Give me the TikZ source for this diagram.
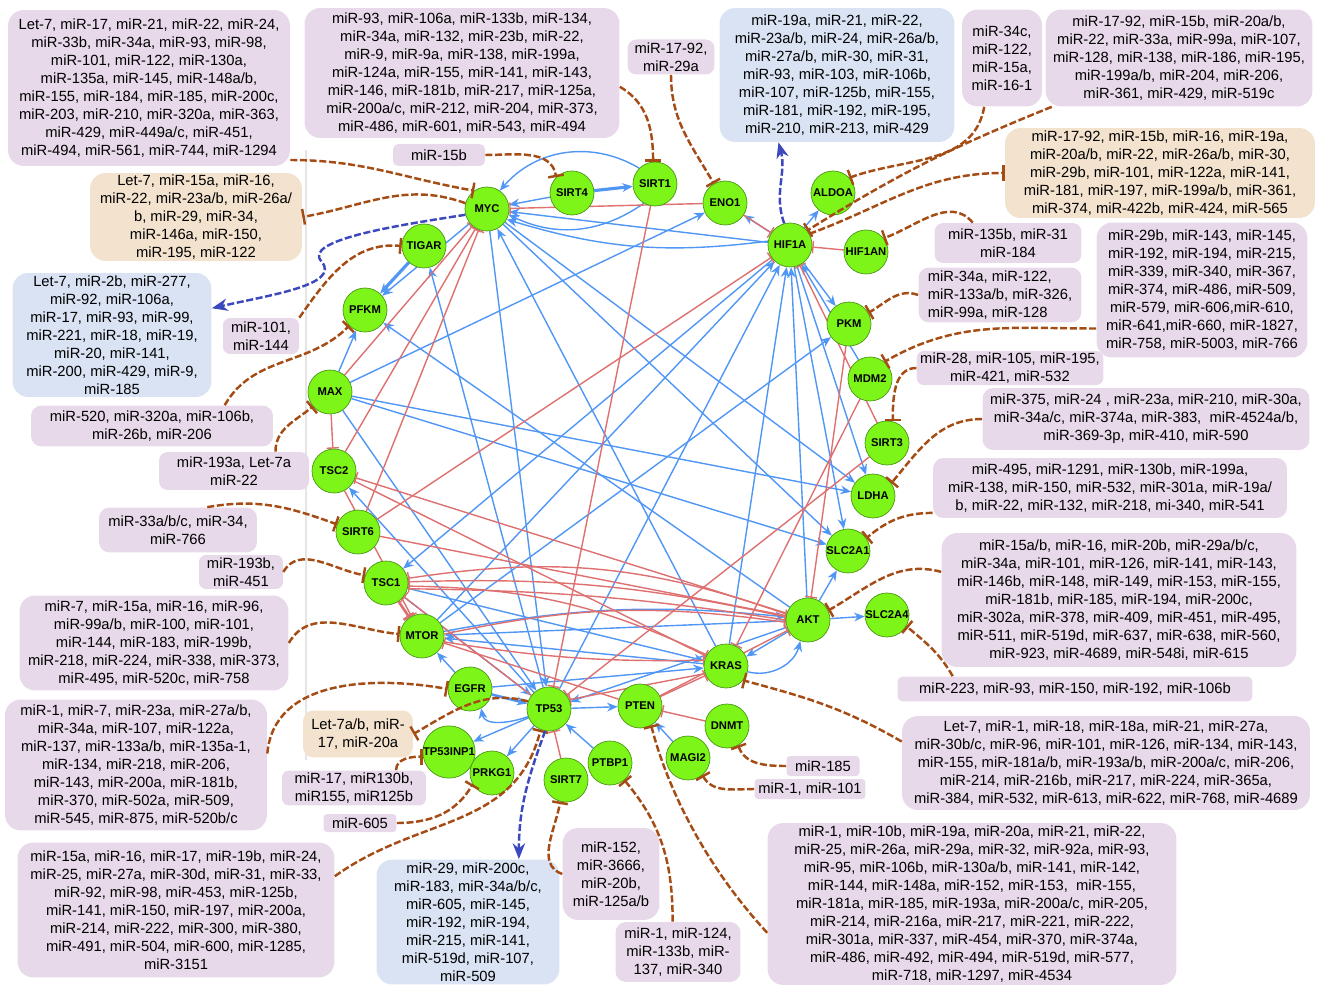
\documentclass[tikz,border=0pt]{standalone}
\usepackage{fontspec}
\setmainfont{Liberation Sans}
\usetikzlibrary{positioning, arrows.meta, calc}
\pgfdeclarelayer{bg}
\pgfsetlayers{bg,main}

\definecolor{genefill}{RGB}{125,245,25}
\definecolor{geneedge}{RGB}{75,150,20}
\definecolor{mirpurple}{RGB}{231,217,233}
\definecolor{mirtan}{RGB}{243,226,206}
\definecolor{mirblue}{RGB}{217,227,243}
\definecolor{mirbrown}{RGB}{165,75,20}
\definecolor{actblue}{RGB}{80,150,245}
\definecolor{inhred}{RGB}{222,112,112}
\definecolor{upblue}{RGB}{60,72,190}

\tikzset{
    gene/.style={circle, draw=geneedge, fill=genefill, minimum size=0.88cm, inner sep=0pt, font=\bfseries\fontsize{6.4}{7}\selectfont},
    mir_box/.style={rounded corners=9pt, fill=mirpurple, align=center, inner xsep=2pt, inner ysep=1pt, font=\fontsize{8.4}{10.2}\selectfont},
    tan_box/.style={mir_box, fill=mirtan},
    blue_box/.style={mir_box, fill=mirblue},
    act_edge/.style={draw=actblue, line width=0.8pt, -{Stealth[length=6pt, width=5pt]}},
    inh_edge/.style={draw=inhred, line width=0.8pt, -{Bar[width=7pt]}},
    mir_link/.style={draw=mirbrown, line width=1.4pt, dash pattern=on 4pt off 1.5pt, -{Bar[width=9pt]}},
    up_link/.style={draw=upblue, line width=1.4pt, dash pattern=on 4pt off 1.5pt, -{Stealth[length=9pt, width=7pt]}}
}

\begin{document}
\begin{tikzpicture}[x=0.02cm, y=-0.02cm]
      \useasboundingbox (0,0) rectangle (1319,986);
      \draw[black!10, line width=0.6pt] (306,150) -- (306,760);

      % --- Genes ---
      \node (myc) [gene] at (487,209) {MYC};
      \node (sirt4) [gene] at (572,193) {SIRT4};
      \node (sirt1) [gene] at (655,184) {SIRT1};
      \node (eno1) [gene] at (725,203) {ENO1};
      \node (aldoa) [gene] at (833,193) {ALDOA};
      \node (hif1a) [gene] at (790,245) {HIF1A};
      \node (hif1an) [gene] at (866,252) {HIF1AN};
      \node (tigar) [gene] at (424,246) {TIGAR};
      \node (pfkm) [gene] at (365,310) {PFKM};
      \node (pkm) [gene] at (849,324) {PKM};
      \node (max) [gene] at (330,392) {MAX};
      \node (mdm2) [gene] at (870,379) {MDM2};
      \node (sirt3) [gene] at (887,443) {SIRT3};
      \node (tsc2) [gene] at (334,471) {TSC2};
      \node (ldha) [gene] at (873,496) {LDHA};
      \node (sirt6) [gene] at (358,532) {SIRT6};
      \node (slc2a1) [gene] at (848,551) {SLC2A1};
      \node (tsc1) [gene] at (386,583) {TSC1};
      \node (akt) [gene] at (808,620) {AKT};
      \node (slc2a4) [gene] at (887,615) {SLC2A4};
      \node (mtor) [gene] at (422,636) {MTOR};
      \node (kras) [gene] at (726,666) {KRAS};
      \node (egfr) [gene] at (470,689) {EGFR};
      \node (tp53) [gene] at (549,709) {TP53};
      \node (pten) [gene] at (640,706) {PTEN};
      \node (dnmt) [gene] at (727,726) {DNMT};
      \node (tp53inp1) [gene] at (449,752) {TP53INP1};
      \node (prkg1) [gene] at (492,773) {PRKG1};
      \node (sirt7) [gene] at (566,780) {SIRT7};
      \node (ptbp1) [gene] at (610,763) {PTBP1};
      \node (magi2) [gene] at (688,758) {MAGI2};

      % --- miRNA boxes ---
      \node (boxA) [mir_box, minimum width=5.64cm, minimum height=3.12cm] at (149,88)
          {Let-7, miR-17, miR-21, miR-22, miR-24,\\ miR-33b, miR-34a, miR-93, miR-98,\\ miR-101, miR-122, miR-130a,\\ miR-135a, miR-145, miR-148a/b,\\ miR-155, miR-184, miR-185, miR-200c,\\ miR-203, miR-210, miR-320a, miR-363,\\ miR-429, miR-449a/c, miR-451,\\ miR-494, miR-561, miR-744, miR-1294};
      \node (boxB) [mir_box, minimum width=6.3cm, minimum height=2.6cm] at (462,73)
          {miR-93, miR-106a, miR-133b, miR-134,\\ miR-34a, miR-132, miR-23b, miR-22,\\ miR-9, miR-9a, miR-138, miR-199a,\\ miR-124a, miR-155, miR-141, miR-143,\\ miR-146, miR-181b, miR-217, miR-125a,\\ miR-200a/c, miR-212, miR-204, miR-373,\\ miR-486, miR-601, miR-543, miR-494};
      \node (box1792) [mir_box, rounded corners=5pt, minimum width=1.74cm, minimum height=0.7cm] at (671,57)
          {miR-17-92,\\ miR-29a};
      \node (boxC) [blue_box, minimum width=4.7cm, minimum height=2.68cm] at (837,75)
          {miR-19a, miR-21, miR-22,\\ miR-23a/b, miR-24, miR-26a/b,\\ miR-27a/b, miR-30, miR-31,\\ miR-93, miR-103, miR-106b,\\ miR-107, miR-125b, miR-155,\\ miR-181, miR-192, miR-195,\\ miR-210, miR-213, miR-429};
      \node (box34c) [mir_box, minimum width=1.6cm, minimum height=1.94cm] at (1002,58)
          {miR-34c,\\ miR-122,\\ miR-15a,\\ miR-16-1};
      \node (boxD) [mir_box, minimum width=5.34cm, minimum height=1.94cm] at (1179,58)
          {miR-17-92, miR-15b, miR-20a/b,\\ miR-22, miR-33a, miR-99a, miR-107,\\ miR-128, miR-138, miR-186, miR-195,\\ miR-199a/b, miR-204, miR-206,\\ miR-361, miR-429, miR-519c};
      \node (boxE) [tan_box, minimum width=6.2cm, minimum height=1.8cm] at (1160,173)
          {miR-17-92, miR-15b, miR-16, miR-19a,\\ miR-20a/b, miR-22, miR-26a/b, miR-30,\\ miR-29b, miR-101, miR-122a, miR-141,\\ miR-181, miR-197, miR-199a/b, miR-361,\\ miR-374, miR-422b, miR-424, miR-565};
      \node (box135b) [mir_box, rounded corners=5pt, minimum width=2.94cm, minimum height=0.8cm] at (1008,243)
          {miR-135b, miR-31\\ miR-184};
      \node (box34a) [mir_box, align=left, rounded corners=6pt, minimum width=3.26cm, minimum height=1.1cm] at (1000,295)
          {miR-34a, miR-122,\\ miR-133a/b, miR-326,\\ miR-99a, miR-128};
      \node (boxF) [mir_box, minimum width=4.22cm, minimum height=2.7cm] at (1202,290)
          {miR-29b, miR-143, miR-145,\\ miR-192, miR-194, miR-215,\\ miR-339, miR-340, miR-367,\\ miR-374, miR-486, miR-509,\\ miR-579, miR-606,miR-610,\\ miR-641,miR-660, miR-1827,\\ miR-758, miR-5003, miR-766};
      \node (box28) [mir_box, rounded corners=4pt, minimum width=3.68cm, minimum height=0.64cm] at (1010,368)
          {miR-28, miR-105, miR-195,\\ miR-421, miR-532};
      \node (boxG) [mir_box, rounded corners=6pt, minimum width=6.54cm, minimum height=1.24cm] at (1146,419)
          {miR-375, miR-24 , miR-23a, miR-210, miR-30a,\\ miR-34a/c, miR-374a, miR-383, \ miR-4524a/b,\\ miR-369-3p, miR-410, miR-590};
      \node (boxH) [mir_box, rounded corners=6pt, minimum width=7.08cm, minimum height=1.2cm] at (1110,488)
          {miR-495, miR-1291, miR-130b, miR-199a,\\ miR-138, miR-150, miR-532, miR-301a, miR-19a/\\ b, miR-22, miR-132, miR-218, mi-340, miR-541};
      \node (boxI) [mir_box, minimum width=7.1cm, minimum height=2.68cm] at (1119,600)
          {miR-15a/b, miR-16, miR-20b, miR-29a/b/c,\\ miR-34a, miR-101, miR-126, miR-141, miR-143,\\ miR-146b, miR-148, miR-149, miR-153, miR-155,\\ miR-181b, miR-185, miR-194, miR-200c,\\ miR-302a, miR-378, miR-409, miR-451, miR-495,\\ miR-511, miR-519d, miR-637, miR-638, miR-560,\\ miR-923, miR-4689, miR-548i, miR-615};
      \node (box223) [mir_box, rounded corners=3pt, minimum width=7.1cm, minimum height=0.5cm] at (1075,689)
          {miR-223, miR-93, miR-150, miR-192, miR-106b};
      \node (boxJ) [mir_box, minimum width=8.16cm, minimum height=1.88cm] at (1106,763)
          {Let-7, miR-1, miR-18, miR-18a, miR-21, miR-27a,\\ miR-30b/c, miR-96, miR-101, miR-126, miR-134, miR-143,\\ miR-155, miR-181a/b, miR-193a/b, miR-200a/c, miR-206,\\ miR-214, miR-216b, miR-217, miR-224, miR-365a,\\ miR-384, miR-532, miR-613, miR-622, miR-768, miR-4689};
      \node (box185) [mir_box, rounded corners=2pt, minimum width=1.46cm, minimum height=0.4cm] at (823,766) {miR-185};
      \node (box1101) [mir_box, rounded corners=2pt, minimum width=2.22cm, minimum height=0.4cm] at (810,789) {miR-1, miR-101};
      \node (boxK) [mir_box, minimum width=8.18cm, minimum height=3.24cm] at (972,904)
          {miR-1, miR-10b, miR-19a, miR-20a, miR-21, miR-22,\\ miR-25, miR-26a, miR-29a, miR-32, miR-92a, miR-93,\\ miR-95, miR-106b, miR-130a/b, miR-141, miR-142,\\ miR-144, miR-148a, miR-152, miR-153, \ miR-155,\\ miR-181a, miR-185, miR-193a, miR-200a/c, miR-205,\\ miR-214, miR-216a, miR-217, miR-221, miR-222,\\ miR-301a, miR-337, miR-454, miR-370, miR-374a,\\ miR-486, miR-492, miR-494, miR-519d, miR-577,\\ miR-718, miR-1297, miR-4534};
      \node (box124) [mir_box, rounded corners=6pt, minimum width=2.5cm, minimum height=1.2cm] at (678,952)
          {miR-1, miR-124,\\ miR-133b, miR-\\ 137, miR-340};
      \node (box152) [mir_box, minimum width=1.94cm, minimum height=1.84cm] at (611,874)
          {miR-152,\\ miR-3666,\\ miR-20b,\\ miR-125a/b};
      \node (boxL) [blue_box, minimum width=3.66cm, minimum height=2.5cm] at (468,922)
          {miR-29, miR-200c,\\ miR-183, miR-34a/b/c,\\ miR-605, miR-145,\\ miR-192, miR-194,\\ miR-215, miR-141,\\ miR-519d, miR-107,\\ miR-509};
      \node (boxM) [mir_box, minimum width=6.34cm, minimum height=2.7cm] at (176,910)
          {miR-15a, miR-16, miR-17, miR-19b, miR-24,\\ miR-25, miR-27a, miR-30d, miR-31, miR-33,\\ miR-92, miR-98, miR-453, miR-125b,\\ miR-141, miR-150, miR-197, miR-200a,\\ miR-214, miR-222, miR-300, miR-380,\\ miR-491, miR-504, miR-600, miR-1285,\\ miR-3151};
      \node (box605) [mir_box, rounded corners=2pt, minimum width=1.46cm, minimum height=0.36cm] at (360,823) {miR-605};
      \node (box17) [mir_box, rounded corners=4pt, minimum width=2.88cm, minimum height=0.7cm] at (354,788)
          {miR-17, miR130b,\\ miR155, miR125b};
      \node (boxLet7a) [tan_box, rounded corners=6pt, minimum width=2.2cm, minimum height=0.94cm] at (358,734)
          {Let-7a/b, miR-\\ 17, miR-20a};
      \node (box33a) [mir_box, rounded corners=6pt, minimum width=3.16cm, minimum height=0.9cm] at (178,530)
          {miR-33a/b/c, miR-34,\\ miR-766};
      \node (box193b) [mir_box, rounded corners=4pt, minimum width=1.68cm, minimum height=0.68cm] at (241,572)
          {miR-193b,\\ miR-451};
      \node (boxN) [mir_box, minimum width=5.38cm, minimum height=1.9cm] at (154,643)
          {miR-7, miR-15a, miR-16, miR-96,\\ miR-99a/b, miR-100, miR-101,\\ miR-144, miR-183, miR-199b,\\ miR-218, miR-224, miR-338, miR-373,\\ miR-495, miR-520c, miR-758};
      \node (boxO) [mir_box, minimum width=5.24cm, minimum height=2.62cm] at (136,765)
          {miR-1, miR-7, miR-23a, miR-27a/b,\\ miR-34a, miR-107, miR-122a,\\ miR-137, miR-133a/b, miR-135a-1,\\ miR-134, miR-218, miR-206,\\ miR-143, miR-200a, miR-181b,\\ miR-370, miR-502a, miR-509,\\ miR-545, miR-875, miR-520b/c};
      \node (box193a) [mir_box, rounded corners=5pt, minimum width=3.0cm, minimum height=0.76cm] at (234,471)
          {miR-193a, Let-7a\\ miR-22};
      \node (box520) [mir_box, rounded corners=6pt, minimum width=4.84cm, minimum height=0.82cm] at (152,426)
          {miR-520, miR-320a, miR-106b,\\ miR-26b, miR-206};
      \node (box101) [mir_box, rounded corners=4pt, minimum width=1.52cm, minimum height=0.72cm] at (261,336)
          {miR-101,\\ miR-144};
      \node (boxP) [blue_box, minimum width=3.98cm, minimum height=2.48cm] at (112,335)
          {Let-7, miR-2b, miR-277,\\ miR-92, miR-106a,\\ miR-17, miR-93, miR-99,\\ miR-221, miR-18, miR-19,\\ miR-20, miR-141,\\ miR-200, miR-429, miR-9,\\ miR-185};
      \node (boxQ) [tan_box, minimum width=4.24cm, minimum height=1.76cm] at (196,217)
          {Let-7, miR-15a, miR-16,\\ miR-22, miR-23a/b, miR-26a/\\ b, miR-29, miR-34,\\ miR-146a, miR-150,\\ miR-195, miR-122};
      \node (box15b) [mir_box, rounded corners=3pt, minimum width=1.84cm, minimum height=0.44cm] at (439,155) {miR-15b};

      \begin{pgfonlayer}{bg}
      % --- Activation (blue) ---
      \draw[act_edge, line width=1.8pt] (sirt4) -- (sirt1);
      \draw[act_edge] (sirt1.135) to[bend right=40] (myc.55);
      \draw[act_edge] (sirt4) -- (myc);
      \draw[act_edge] (hif1a) -- (myc);
      \draw[act_edge] (sirt1.-120) to[bend left=30] (myc.-15);
      \draw[act_edge] (hif1a.170) to[bend left=12] (myc.-28);
      \draw[act_edge] (max) -- (eno1);
      \draw[act_edge] (hif1a) -- (eno1);
      \draw[act_edge] (hif1a) -- (aldoa);
      \draw[act_edge, line width=1.8pt] (tigar) -- (pfkm);
      \draw[act_edge] (myc) -- (pfkm);
      \draw[act_edge] (max) -- (pfkm);
      \draw[act_edge] (tp53) -- (tigar);
      \draw[act_edge] (akt) -- (pfkm);
      \draw[act_edge] (max) -- (ldha);
      \draw[act_edge] (max) -- (slc2a1);
      \draw[act_edge] (max) -- (tp53);
      \draw[act_edge] (myc) -- (tp53);
      \draw[act_edge] (myc) -- (ldha);
      \draw[act_edge] (myc) -- (slc2a1);
      \draw[act_edge] (kras) -- (myc);
      \draw[act_edge] (hif1a) -- (pkm);
      \draw[act_edge] (hif1a) -- (ldha);
      \draw[act_edge] (hif1a) -- (slc2a1);
      \draw[act_edge] (mdm2) -- (hif1a);
      \draw[act_edge] (mtor) -- (hif1a);
      \draw[act_edge] (tp53) -- (hif1a);
      \draw[act_edge] (kras) -- (hif1a);
      \draw[act_edge] (akt) -- (hif1a);
      \draw[act_edge] (hif1a) -- (tsc1);
      \draw[act_edge] (akt) -- (slc2a1);
      \draw[act_edge] (akt) -- (slc2a4);
      \draw[act_edge] (mtor) -- (pkm);
      \draw[act_edge] (tp53) -- (tsc2);
      \draw[act_edge] (tp53) -- (pten);
      \draw[act_edge] (tp53) -- (tp53inp1);
      \draw[act_edge] (tp53) -- (prkg1);
      \draw[act_edge] (tp53.-160) to[out=200, in=-80] (egfr.-60);
      \draw[act_edge, line width=1.5pt] (egfr) -- (tp53);
      \draw[act_edge] (ptbp1) -- (tp53);
      \draw[act_edge] (magi2) -- (pten);
      \draw[act_edge] (egfr) -- (mtor);
      \draw[act_edge] (egfr) -- (kras);
      \draw[act_edge] (kras.-15) to[bend right=45] (akt.-110);
      \draw[act_edge] (akt.-150) -- (kras.25);
      \draw[act_edge] (kras) -- (mtor);
      \draw[act_edge] (akt) -- (mtor);
      \draw[act_edge] (mtor.12) to[bend left=8] (akt.172);
      \draw[act_edge] (tsc1) -- (kras);
      \draw[act_edge] (akt) -- (tp53);
      \draw[act_edge] (tsc1) -- (tp53);

      % --- Inhibition (red) ---
      \draw[inh_edge] (eno1) -- (myc);
      \draw[inh_edge] (eno1) -- (hif1a);
      \draw[inh_edge] (hif1an) -- (hif1a);
      \draw[inh_edge] (max) -- (myc);
      \draw[inh_edge] (max) -- (tsc2);
      \draw[inh_edge] (tsc2) -- (myc);
      \draw[inh_edge] (sirt6) -- (myc);
      \draw[inh_edge] (sirt6) -- (hif1a);
      \draw[inh_edge] (sirt3) -- (hif1a);
      \draw[inh_edge] (pkm) -- (akt);
      \draw[inh_edge] (mdm2) -- (kras);
      \draw[inh_edge] (sirt3) -- (tp53);
      \draw[inh_edge] (sirt1) -- (tp53);
      \draw[inh_edge] (akt) -- (tsc2);
      \draw[inh_edge] (tsc2) -- (kras);
      \draw[inh_edge] (sirt6) -- (akt);
      \draw[inh_edge] (tsc2) -- (mtor);
      \draw[inh_edge, line width=1.5pt] (tsc1) -- (mtor);
      \draw[inh_edge] (akt.165) to[bend right=14] (tsc1.12);
      \draw[inh_edge] (akt.172) to[bend right=7] (tsc1.3);
      \draw[inh_edge] (kras.150) to[bend right=12] (tsc1.-8);
      \draw[inh_edge] (tsc1.-15) to[bend left=4] (akt.180);
      \draw[inh_edge] (mtor.5) to[bend left=10] (akt.186);
      \draw[inh_edge] (mtor.-15) to[bend right=5] (kras.165);
      \draw[inh_edge] (pten) -- (akt);
      \draw[inh_edge] (pten) -- (mtor);
      \draw[inh_edge] (pten) -- (kras);
      \draw[inh_edge] (dnmt) -- (pten);
      \draw[inh_edge] (sirt7) -- (tp53);
      \draw[inh_edge] (tp53) -- (tsc1);
      \draw[inh_edge] (kras.200) -- (tp53.25);
      \end{pgfonlayer}

      % --- miRNA links ---
      \draw[mir_link] (boxA.-27) to[out=0, in=170] (myc.125);
      \draw[mir_link] (myc.165) to[out=160, in=10] (boxQ.east);
      \draw[mir_link] (box15b.east) to[out=0, in=100] (sirt4.135);
      \draw[mir_link] (boxB.-5) to[out=-30, in=90] (sirt1.95);
      \draw[mir_link] (box1792.south) to[out=-90, in=120] (eno1.120);
      \draw[mir_link] (box34c.250) to[out=-100, in=20] (aldoa.43);
      \draw[mir_link] (boxD.201) to[out=-158, in=32] (hif1a.40);
      \draw[mir_link] (hif1a.30) to[out=20, in=180] (boxE.west);
      \draw[mir_link] (box135b.150) to[out=130, in=20] (hif1an.38);
      \draw[mir_link] (box34a.west) to[out=160, in=30] (pkm.30);
      \draw[mir_link] (boxF.200) to[out=180, in=30] (mdm2.50);
      \draw[mir_link] (box28.west) to[out=180, in=90] (sirt3.75);
      \draw[mir_link] (boxG.west) to[out=180, in=50] (ldha.35);
      \draw[mir_link] (boxH.188) to[out=180, in=40] (slc2a1.35);
      \draw[mir_link] (boxI.171) to[out=165, in=30] (akt.25);
      \draw[mir_link] (box223.174) to[out=120, in=-40] (slc2a4.-30);
      \draw[mir_link] (boxJ.174) to[out=150, in=-15] (kras.-40);
      \draw[mir_link] (box185.west) to[out=180, in=-70] (dnmt.-60);
      \draw[mir_link] (box1101.west) to[out=180, in=-60] (magi2.-50);
      \draw[mir_link] (boxK.188) .. controls (700,860) and (665,780) .. (pten.-60);
      \draw[mir_link] (box124.100) to[out=90, in=-50] (ptbp1.-50);
      \draw[mir_link] (box152.west) to[out=160, in=-100] (sirt7.-105);
      \draw[mir_link] (boxM.12) .. controls (420,815) and (515,830) .. (tp53.-112);
      \draw[mir_link] (box605.east) to[out=0, in=-120] (prkg1.-150);
      \draw[mir_link] (box17.23) to[out=90, in=180] (tp53inp1.190);
      \draw[mir_link] (tp53.160) to[out=165, in=30] (boxLet7a.east);
      \draw[mir_link] (box33a.38) to[out=10, in=160] (sirt6.160);
      \draw[mir_link] (box193b.east) to[out=60, in=170] (tsc1.160);
      \draw[mir_link] (boxN.east) to[out=60, in=175] (mtor.175);
      \draw[mir_link] (boxO.5) to[out=85, in=170] (egfr.180);
      \draw[mir_link] (box193a.25) to[out=90, in=-140] (max.-140);
      \draw[mir_link] (box520.16) to[out=60, in=-135] (pfkm.-135);
      \draw[mir_link] (box101.north east) to[out=55, in=175] (tigar.180);

      % --- Up-regulated miRNAs ---
      \draw[up_link] (hif1a.105) to[out=110, in=-75] (boxC.-131);
      \draw[up_link] (tp53.-100) to[out=-110, in=90] (boxL.51);
      \draw[up_link] (myc.195) .. controls (400,225) and (300,240) .. (322,262)
          .. controls (340,285) and (270,295) .. (boxP.15);
  \end{tikzpicture}
\end{document}
